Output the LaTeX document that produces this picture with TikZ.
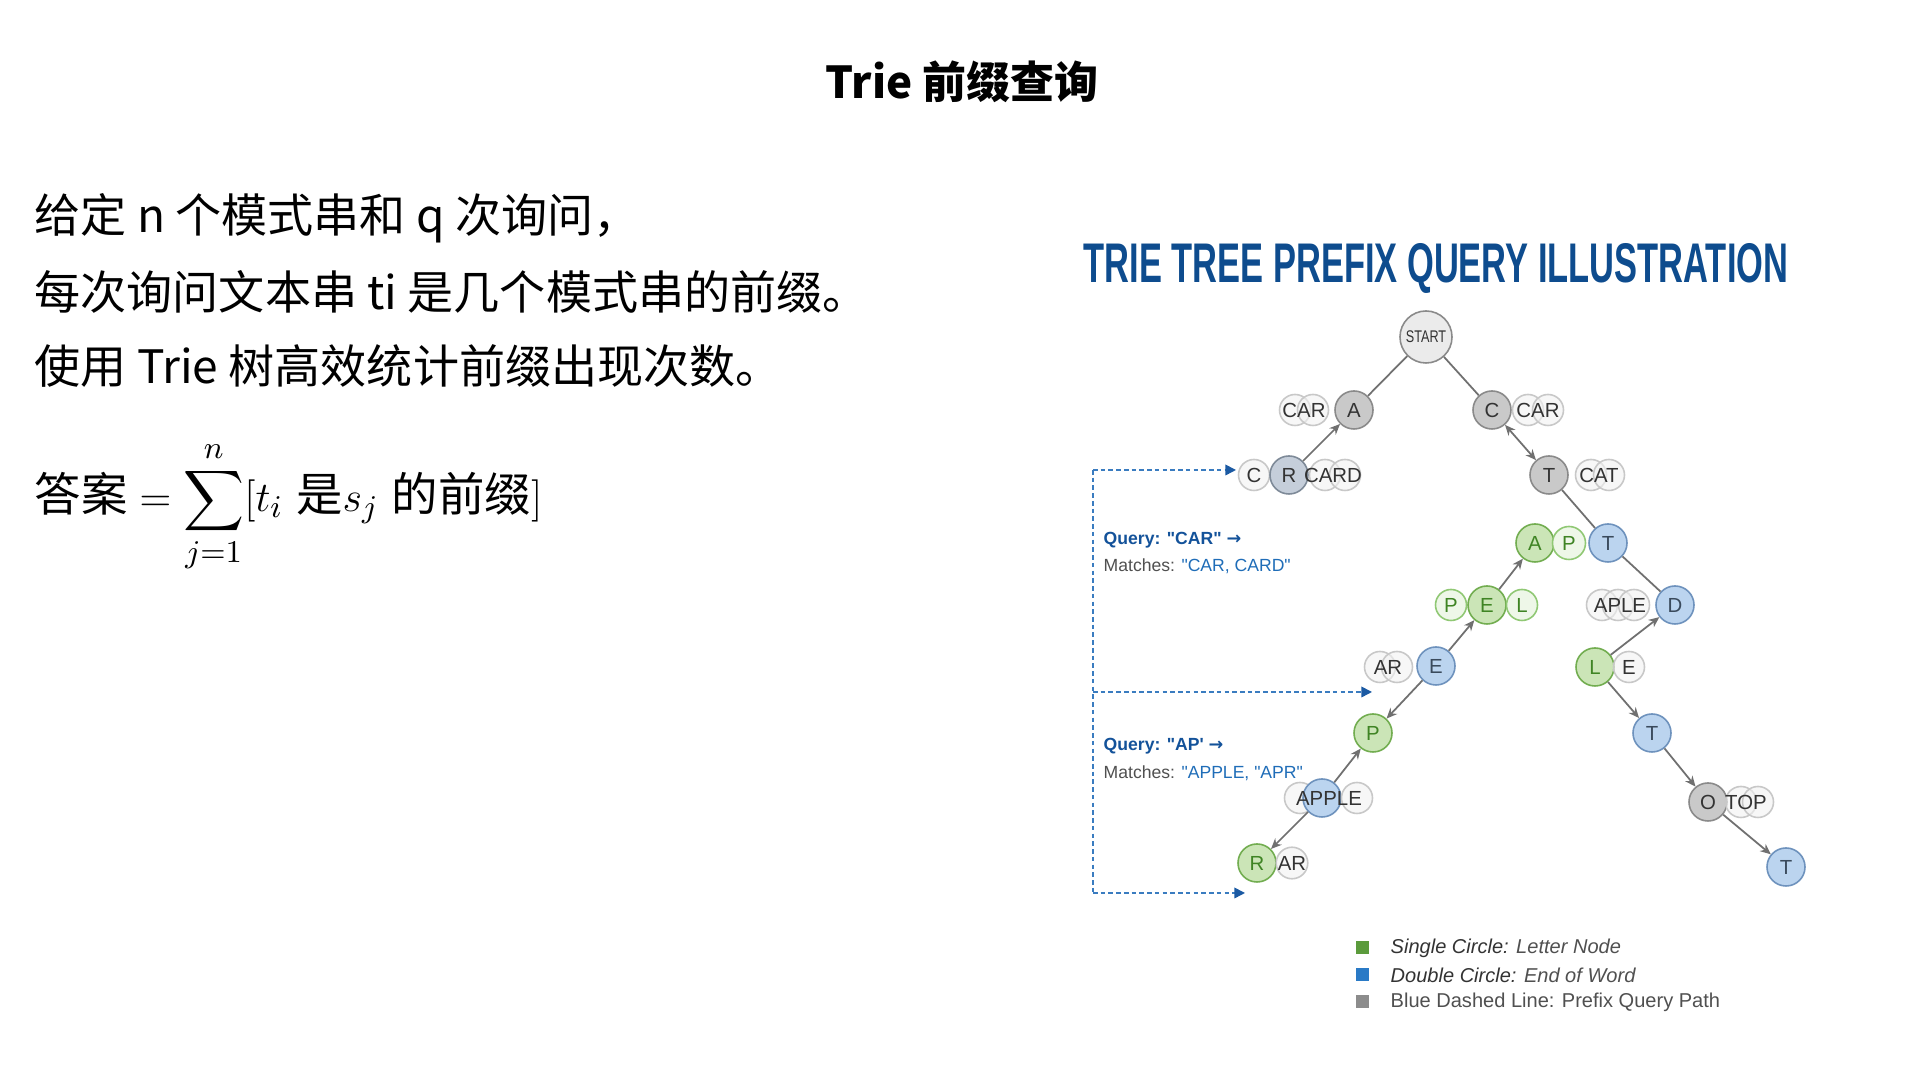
\documentclass[tikz,border=0pt]{standalone}
\usepackage{fontspec}
\usepackage{amsmath}
\setmainfont[Ligatures=TeXOff]{Liberation Sans}
\newfontfamily\cjk{Noto Sans CJK SC}
\newfontfamily\symfont{DejaVu Sans}
\usetikzlibrary{arrows.meta}

\definecolor{inkdark}{HTML}{333333}
\definecolor{grayfill}{HTML}{C9C9C9}
\definecolor{grayline}{HTML}{8A8A8A}
\definecolor{startfill}{HTML}{EBEBEB}
\definecolor{rfill}{HTML}{C5CEDA}
\definecolor{rline}{HTML}{7E8A98}
\definecolor{greenfill}{HTML}{CBE5B7}
\definecolor{greenline}{HTML}{72AD50}
\definecolor{greenink}{HTML}{3F8424}
\definecolor{lgreenfill}{HTML}{EEF7E8}
\definecolor{lgreenline}{HTML}{90C874}
\definecolor{bluefill}{HTML}{BBD4EF}
\definecolor{blueline}{HTML}{6E92BD}
\definecolor{blueink}{HTML}{3A4A5C}
\definecolor{ghostfill}{HTML}{F2F2F2}
\definecolor{ghostline}{HTML}{C8C8C8}
\definecolor{edgegray}{HTML}{707070}
\definecolor{titleblue}{HTML}{0E4C8E}
\definecolor{queryline}{HTML}{3A7CC0}
\definecolor{queryhead}{HTML}{1B5AA3}
\definecolor{queryink}{HTML}{13529A}
\definecolor{matchblue}{HTML}{1F6DB8}
\definecolor{labelgray}{HTML}{505050}
\definecolor{leggreen}{HTML}{5B9B3C}
\definecolor{legblue}{HTML}{2A7AC6}
\definecolor{leggray}{HTML}{8C8C8C}

\tikzset{
  letter/.style={circle, inner sep=0pt, minimum size=0.38cm, line width=0.45pt,
    font=\fontsize{5.8pt}{6pt}\selectfont},
  graynode/.style={letter, draw=grayline, fill=grayfill, text=inkdark},
  startnode/.style={letter, minimum size=0.52cm, draw=grayline, fill=startfill,
    text=inkdark, font=\fontsize{4.8pt}{5pt}\selectfont},
  rnode/.style={letter, draw=rline, fill=rfill, text=inkdark},
  greennode/.style={letter, draw=greenline, fill=greenfill, text=greenink},
  lightgreen/.style={letter, minimum size=0.31cm, draw=lgreenline, fill=lgreenfill, text=greenink},
  bluenode/.style={letter, draw=blueline, fill=bluefill, text=blueink},
  ghost/.style={letter, minimum size=0.31cm, draw=ghostline, fill=ghostfill,
    fill opacity=0.6, text opacity=1, text=inkdark},
  ghosttext/.style={inner sep=0pt, text=inkdark, font=\fontsize{5.8pt}{6pt}\selectfont},
  edge/.style={draw=edgegray, line width=0.5pt},
  arrow/.style={edge, -{Stealth[length=3pt,width=2.6pt]}},
  querypath/.style={draw=queryline, line width=0.45pt, dash pattern=on 1.3pt off 0.9pt},
  queryarrow/.style={querypath, -{Triangle[length=3pt,width=3pt,color=queryhead,fill=queryhead]}},
  querytext/.style={anchor=west, inner sep=0pt, font=\fontsize{5pt}{6pt}\selectfont},
  introline/.style={anchor=west, inner sep=0pt, font=\cjk\fontsize{13.1pt}{15pt}\selectfont},
  legsq/.style={inner sep=0pt, minimum size=0.13cm},
  legtext/.style={anchor=west, inner sep=0pt, text=labelgray, font=\fontsize{5.7pt}{7pt}\selectfont}
}

\begin{document}
\begin{tikzpicture}[x=0.01cm, y=-0.01cm]
\useasboundingbox (0,0) rectangle (1920,1080);
\fill[white] (0,0) rectangle (1920,1080);

% left side: problem statement
\node[font=\cjk\bfseries\fontsize{12.5pt}{14pt}\selectfont] (title) at (962,82) {Trie 前缀查询};
\node[introline] (intro1) at (34,218) {给定 n 个模式串和 q 次询问，};
\node[introline] (intro2) at (34,292) {每次询问文本串 ti 是几个模式串的前缀。};
\node[introline] (intro3) at (34,366) {使用 Trie 树高效统计前缀出现次数。};
\node[anchor=west, inner sep=0pt, font=\fontsize{13.2pt}{16pt}\selectfont] (answer) at (34,507)
  {$\displaystyle \text{\cjk 答案} = \sum_{j=1}^{n} [t_i \text{ \cjk 是}s_j \text{ \cjk 的前缀}]$};

% right side: trie
\node[anchor=base, text=titleblue, font=\bfseries] (heading) at (1436,283)
  {\resizebox{7.04cm}{0.39cm}{TRIE TREE PREFIX QUERY ILLUSTRATION}};

\node[startnode] (start) at (1426,337) {\scalebox{0.75}[1]{START}};

\node[ghost] (carAa) at (1295,410) {};
\node[ghost] (carAb) at (1313,410) {};
\node[ghosttext] (carA) at (1304,410) {CAR};
\node[graynode] (a1) at (1354,410) {A};
\node[graynode] (c1) at (1492,410) {C};
\node[ghost] (carCa) at (1528,410) {};
\node[ghost] (carCb) at (1548,410) {};
\node[ghosttext] (carC) at (1538,410) {CAR};

\node[ghost] (cg) at (1254,475) {C};
\node[rnode] (r2) at (1289,475) {R};
\node[ghost] (carda) at (1325,475) {};
\node[ghost] (cardb) at (1345,475) {};
\node[ghosttext] (card) at (1333,475) {CARD};
\node[graynode] (t2) at (1549,475) {T};
\node[ghost] (cata) at (1591,475) {};
\node[ghost] (catb) at (1609,475) {};
\node[ghosttext] (cat) at (1599,475) {CAT};

\node[greennode] (a3) at (1535,543) {A};
\node[lightgreen, minimum size=0.33cm] (p3) at (1569,543) {P};
\node[bluenode] (t3) at (1608,543) {T};

\node[lightgreen] (p4) at (1451,605) {P};
\node[greennode] (e4) at (1487,605) {E};
\node[lightgreen] (l4) at (1522,605) {L};
\node[ghost] (aplea) at (1602,605) {};
\node[ghost] (apleb) at (1618,605) {};
\node[ghost] (aplec) at (1634,605) {};
\node[ghosttext] (aple) at (1620,605) {APLE};
\node[bluenode] (d4) at (1675,605) {D};

\node[ghost] (ara) at (1380,667) {};
\node[ghost] (arb) at (1397,667) {};
\node[ghosttext] (ar) at (1388,667) {AR};
\node[bluenode] (e5) at (1436,666) {E};
\node[greennode] (l5) at (1595,667) {L};
\node[ghost] (eg) at (1629,667) {E};

\node[greennode] (p6) at (1373,733) {P};
\node[bluenode] (t6) at (1652,733) {T};

\node[ghost] (applea) at (1300,798) {};
\node[bluenode] (apple) at (1322,798) {};
\node[ghost] (appleb) at (1357,798) {};
\node[ghosttext] (appletext) at (1329,798) {APPLE};
\node[graynode] (o7) at (1708,802) {O};
\node[ghost] (topa) at (1741,802) {};
\node[ghost] (topb) at (1758,802) {};
\node[ghosttext] (top) at (1746,802) {TOP};

\node[greennode] (r8) at (1257,863) {R};
\node[ghost] (arg) at (1292,863) {AR};
\node[bluenode] (t8) at (1786,867) {T};

\draw[edge] (start) -- (a1);
\draw[edge] (start) -- (c1);
\draw[arrow] (r2) -- (a1);
\draw[edge, {Stealth[length=3pt,width=2.6pt]}-{Stealth[length=3pt,width=2.6pt]}] (c1) -- (t2);
\draw[edge] (t2) -- (t3);
\draw[arrow] (e4) -- (a3);
\draw[arrow] (e5) -- (e4);
\draw[edge] (t3) -- (d4);
\draw[arrow] (l5) -- (d4);
\draw[arrow] (e5) -- (p6);
\draw[arrow] (apple) -- (p6);
\draw[arrow] (apple) -- (r8);
\draw[arrow] (l5) -- (t6);
\draw[arrow] (t6) -- (o7);
\draw[arrow] (o7) -- (t8);

% query paths
\coordinate (qtop) at (1093,470);
\coordinate (qmid) at (1093,692);
\coordinate (qbot) at (1093,893);
\coordinate (qtopend) at (1236,470);
\coordinate (qmidend) at (1372,692);
\coordinate (qbotend) at (1245,893);
\draw[querypath] (qtop) -- (qbot);
\draw[queryarrow] (qtop) -- (qtopend);
\draw[queryarrow] (qmid) -- (qmidend);
\draw[queryarrow] (qbot) -- (qbotend);

\node[querytext, text=queryink, font=\bfseries\fontsize{5pt}{6pt}\selectfont] (query1) at (1103,540) {Query: "CAR" {\symfont →}};
\node[querytext, text=labelgray] (match1) at (1103,566) {Matches: \textcolor{matchblue}{"CAR, CARD"}};
\node[querytext, text=queryink, font=\bfseries\fontsize{5pt}{6pt}\selectfont] (query2) at (1103,746) {Query: "AP' {\symfont →}};
\node[querytext, text=labelgray] (match2) at (1103,773) {Matches: \textcolor{matchblue}{"APPLE, "APR"}};

% legend
\node[legsq, fill=leggreen] (legA) at (1362,948) {};
\node[legtext] (legAtext) at (1390,948) {\itshape\textcolor{inkdark}{Single Circle:} Letter Node};
\node[legsq, fill=legblue] (legB) at (1362,975) {};
\node[legtext] (legBtext) at (1390,975) {\itshape\textcolor{inkdark}{Double Circle:} End of Word};
\node[legsq, fill=leggray] (legC) at (1362,1002) {};
\node[legtext] (legCtext) at (1390,1002) {Blue Dashed Line: Prefix Query Path};
\end{tikzpicture}
\end{document}
